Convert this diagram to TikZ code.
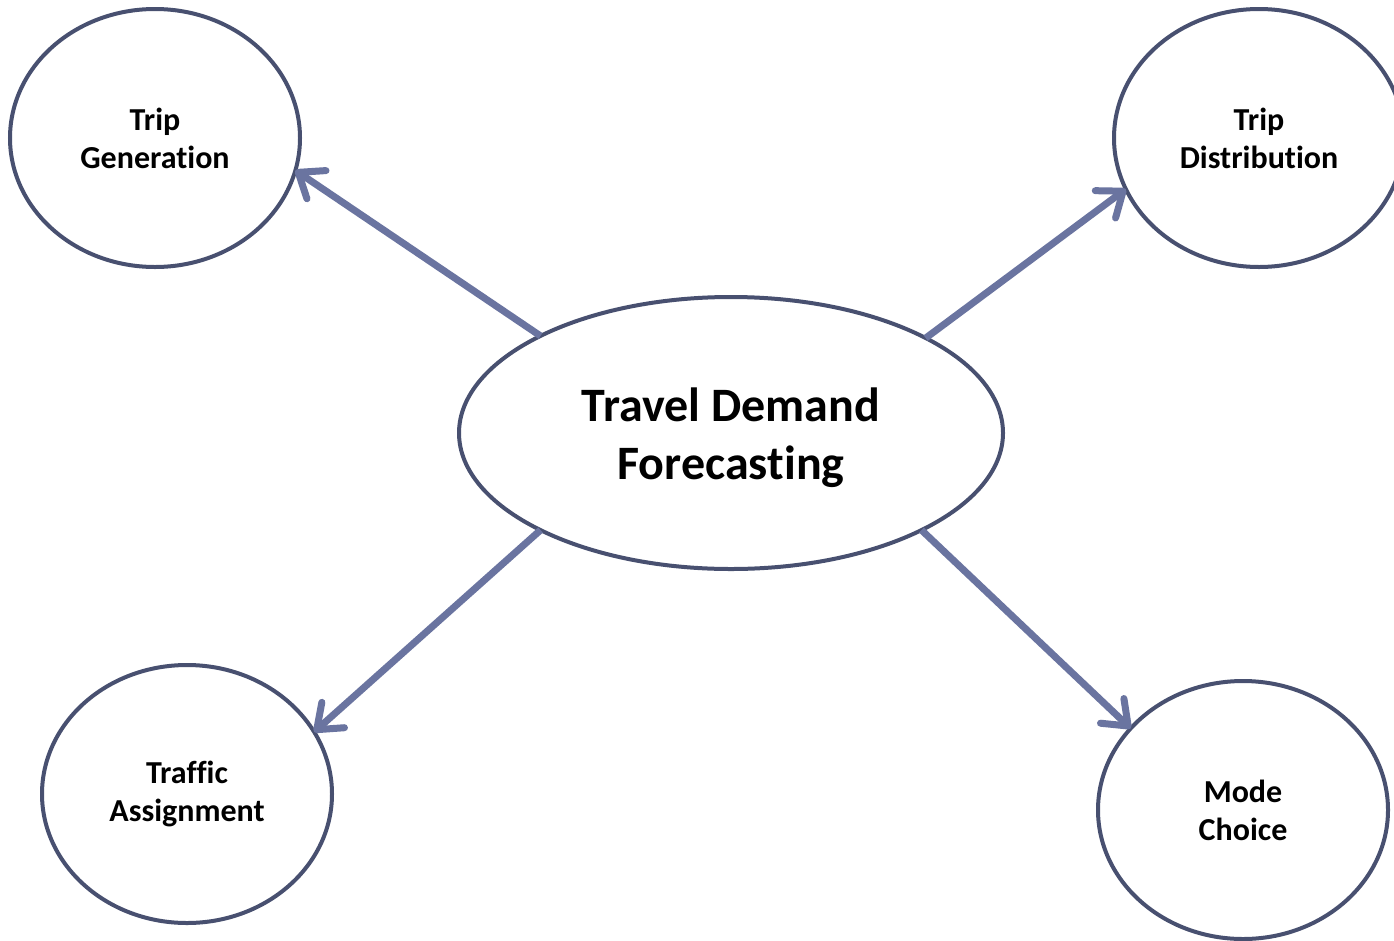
\documentclass[tikz,border=0pt]{standalone}
\usepackage{fontspec}
\setmainfont[Ligatures={NoCommon}]{Carlito}
\usetikzlibrary{shapes.geometric,arrows.meta}
\definecolor{rim}{RGB}{72,80,112}
\definecolor{link}{RGB}{106,116,160}
\tikzset{
  stage/.style={ellipse, draw=rim, line width=4pt, outer sep=0pt, inner sep=0pt,
    minimum width=290pt, minimum height=258pt, align=center,
    font=\fontsize{32}{38}\selectfont\bfseries},
  hub/.style={ellipse, draw=rim, line width=4pt, outer sep=0pt, inner sep=0pt,
    minimum width=544pt, minimum height=272pt},
  hubtext/.style={align=center, inner sep=0pt,
    font=\fontsize{48}{58}\selectfont\bfseries},
  feed/.style={draw=link, line width=7pt,
    -{Straight Barb[length=22pt, width=34pt, round]}}
}
\begin{document}
\begin{tikzpicture}[x=1pt, y=-1pt]
  \useasboundingbox (0,0) rectangle (1394,940);
  \clip (0,0) rectangle (1394,940);
  \fill[white] (0,0) rectangle (1394,940);

  % central topic and its caption
  \node[hub]     (tdf) at (731,433) {};
  \node[hubtext] (tdftext) at (731,438) {Travel Demand\\Forecasting};

  % the four model steps
  \node[stage] (gen) at (155,138) {Trip\\Generation};
  \node[stage] (dis) at (1259,138) {Trip\\Distribution};
  \node[stage] (asg) at (187,794) {Traffic\\Assignment};
  \node[stage] (mod) at (1243,810) {Mode\\Choice};

  \draw[feed] (tdf.153) -- (gen.-13);
  \draw[feed] (tdf.26.6) -- (dis.201.6);
  \draw[feed] (tdf.207) -- (asg.26.7);
  \draw[feed] (tdf.-27) -- (mod.144.5);
\end{tikzpicture}
\end{document}
